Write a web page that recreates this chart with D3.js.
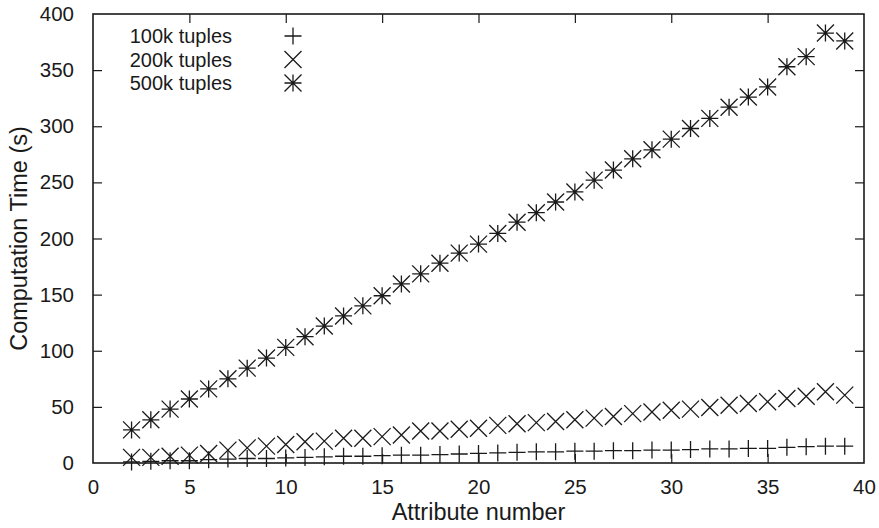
<!DOCTYPE html>
<html>
<head>
<meta charset="utf-8">
<script src="https://cdn.jsdelivr.net/npm/d3@7"></script>
<style>
  body { margin: 0; background: #fff; }
  svg { display: block; }
  text { font-family: "Liberation Sans", Arial, Helvetica, sans-serif; fill: #1a1a1a; }
</style>
</head>
<body>
<svg id="chart" width="879" height="528"></svg>
<script>
// ---- data ----
const attributes = [2,3,4,5,6,7,8,9,10,11,12,13,14,15,16,17,18,19,20,21,22,23,24,25,26,27,28,29,30,31,32,33,34,35,36,37,38,39];
const t100k = [1,1.5,2,2,3,3.5,4,4,4.5,5,5.5,6,6,6.5,7,7,7.5,8,8.5,9,9.5,10,10,10.5,10.5,11,11,11.5,11.5,12,12.5,12.5,13,13,14,14.5,15,15];
const t200k = [5,5,6,7,8.5,11.5,13.5,15,16.5,19,19.5,22,22,23.5,25,28.5,28.5,30,31,33.5,35,36,37,38.5,40,41.5,44,45.5,47,48,49.5,51.5,53,54.5,57.5,59.5,63.5,60.5];
const t500k = [29.5,38.5,48,57,66,75,84.5,93.5,103,112.5,122,131,140,149,159.5,168.5,178,187,195,204.5,214.5,223,232.5,241.5,252,261,271,279,288.5,298,307,317,326,335,353,362,383,376];
const seriesNames = ["100k tuples","200k tuples","500k tuples"];
const seriesValues = [t100k, t200k, t500k];
const seriesShapes = ["plus","cross","star"];
const xTicks = [0,5,10,15,20,25,30,35,40];
const yTicks = [0,50,100,150,200,250,300,350,400];
const xLabel = "Attribute number";
const yLabel = "Computation Time (s)";

// ---- layout ----
const W = 879, H = 528;
const m = {left: 93, right: 15, top: 14, bottom: 65};
const svg = d3.select("#chart");
const x = d3.scaleLinear().domain([0,40]).range([m.left, W - m.right]);
const y = d3.scaleLinear().domain([0,400]).range([H - m.bottom, m.top]);
const ink = "#1a1a1a";
const tickLen = 9;

// axes (inward ticks, mirrored)
const gx = svg.append("g").attr("transform", `translate(0,${H - m.bottom})`)
  .call(d3.axisBottom(x).tickValues(xTicks).tickSize(-tickLen).tickPadding(tickLen + 7).tickFormat(d3.format("d")));
const gxt = svg.append("g").attr("transform", `translate(0,${m.top})`)
  .call(d3.axisTop(x).tickValues(xTicks).tickSize(-tickLen).tickFormat(""));
const gy = svg.append("g").attr("transform", `translate(${m.left},0)`)
  .call(d3.axisLeft(y).tickValues(yTicks).tickSize(-tickLen).tickPadding(tickLen + 10).tickFormat(d3.format("d")));
const gyr = svg.append("g").attr("transform", `translate(${W - m.right},0)`)
  .call(d3.axisRight(y).tickValues(yTicks).tickSize(-tickLen).tickFormat(""));
[gx, gxt, gy, gyr].forEach(g => {
  g.select(".domain").remove();
  g.selectAll(".tick line").attr("stroke", ink).attr("stroke-width", 1.2);
  g.selectAll(".tick text").attr("font-size", 20.5).style("fill", ink)
    .attr("font-family", '"Liberation Sans", Arial, sans-serif');
});
// remove ticks at the very ends duplicating the frame
[gx, gxt].forEach(g => g.selectAll(".tick").filter(d => d === 0 || d === 40).select("line").remove());
[gy, gyr].forEach(g => g.selectAll(".tick").filter(d => d === 0 || d === 400).select("line").remove());

// frame
svg.append("rect").attr("x", m.left).attr("y", m.top)
  .attr("width", W - m.left - m.right).attr("height", H - m.top - m.bottom)
  .attr("fill", "none").attr("stroke", ink).attr("stroke-width", 1.6);

// axis labels
svg.append("text").attr("x", (m.left + W - m.right) / 2).attr("y", 520)
  .attr("text-anchor", "middle").attr("font-size", 23.5).text(xLabel);
svg.append("text").attr("transform", `translate(27,${(m.top + H - m.bottom) / 2}) rotate(-90)`)
  .attr("text-anchor", "middle").attr("font-size", 23.5).text(yLabel);

// marker drawing
const R = 8.5;
function markerPath(shape, r) {
  const p = d3.path();
  if (shape === "plus" || shape === "star") {
    p.moveTo(-r, 0); p.lineTo(r, 0);
    p.moveTo(0, -r); p.lineTo(0, r);
  }
  if (shape === "cross" || shape === "star") {
    p.moveTo(-r, -r); p.lineTo(r, r);
    p.moveTo(-r, r); p.lineTo(r, -r);
  }
  return p.toString();
}

const plot = svg.append("g");
seriesValues.forEach((vals, si) => {
  plot.append("g").selectAll("path")
    .data(attributes.map((a, i) => [a, vals[i]]))
    .join("path")
    .attr("transform", d => `translate(${x(d[0])},${y(d[1])})`)
    .attr("d", markerPath(seriesShapes[si], R))
    .attr("fill", "none").attr("stroke", ink).attr("stroke-width", 1.3);
});

// legend
const legX = 232, legMarkX = 293, legY0 = 36, legDy = 23.5;
seriesNames.forEach((name, i) => {
  const yy = legY0 + i * legDy;
  svg.append("text").attr("x", legX).attr("y", yy).attr("dy", "0.35em")
    .attr("text-anchor", "end").attr("font-size", 20).text(name);
  svg.append("path").attr("transform", `translate(${legMarkX},${yy})`)
    .attr("d", markerPath(seriesShapes[i], R))
    .attr("fill", "none").attr("stroke", ink).attr("stroke-width", 1.3);
});
</script>
</body>
</html>
